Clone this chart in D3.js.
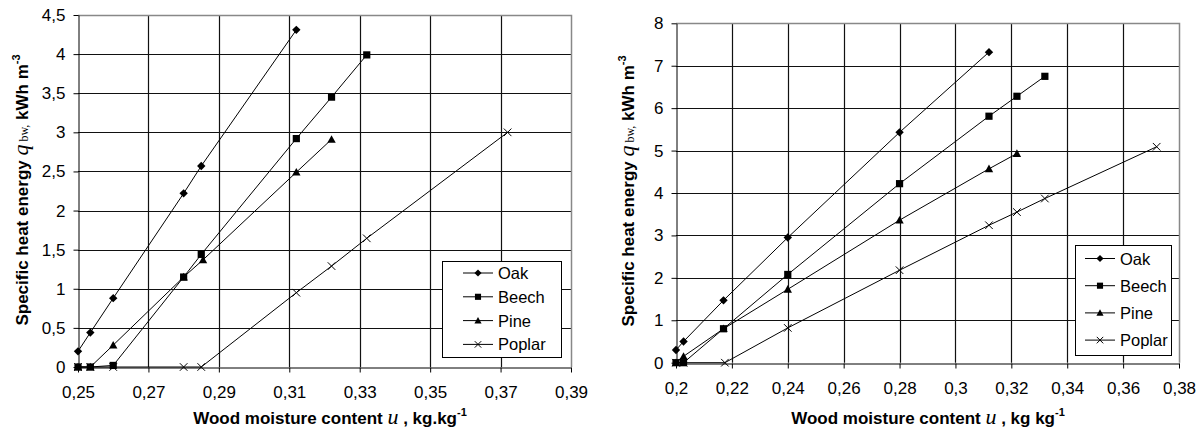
<!DOCTYPE html>
<html>
<head>
<meta charset="utf-8">
<script src="https://cdn.jsdelivr.net/npm/d3@7"></script>
<style>
  body { margin: 0; background: #fff; }
  svg text { font-family: Arial, "Liberation Sans", sans-serif; }
</style>
</head>
<body>
<div id="chart"></div>
<script>
// Species in legend order
const species = ["Oak", "Beech", "Pine", "Poplar"];

// Left chart: [u, q] pairs
const leftOak    = [[0.25, 0.2], [0.2535, 0.44], [0.26, 0.88], [0.28, 2.22], [0.285, 2.57], [0.312, 4.31]];
const leftBeech  = [[0.25, 0], [0.2535, 0], [0.26, 0.02], [0.28, 1.15], [0.285, 1.44], [0.312, 2.92], [0.322, 3.45], [0.332, 3.99]];
const leftPine   = [[0.25, 0], [0.2535, 0], [0.26, 0.28], [0.28, 1.15], [0.2855, 1.37], [0.312, 2.49], [0.322, 2.91]];
const leftPoplar = [[0.25, 0], [0.2535, 0], [0.26, 0], [0.28, 0], [0.285, 0], [0.312, 0.95], [0.322, 1.29], [0.332, 1.645], [0.372, 3.0]];

// Right chart
const rightOak    = [[0.2, 0.3], [0.2027, 0.5], [0.217, 1.47], [0.24, 2.95], [0.28, 5.43], [0.312, 7.32]];
const rightBeech  = [[0.2, 0], [0.2027, 0], [0.217, 0.8], [0.24, 2.08], [0.28, 4.22], [0.312, 5.81], [0.322, 6.28], [0.332, 6.75]];
const rightPine   = [[0.2, 0], [0.2027, 0.15], [0.217, 0.8], [0.24, 1.73], [0.28, 3.36], [0.312, 4.57], [0.322, 4.93]];
const rightPoplar = [[0.2, 0], [0.2027, 0], [0.2175, 0], [0.24, 0.82], [0.28, 2.18], [0.312, 3.24], [0.322, 3.55], [0.332, 3.87], [0.372, 5.09]];

// Tick values and labels
const leftXTicks  = [0.25, 0.27, 0.29, 0.31, 0.33, 0.35, 0.37, 0.39];
const leftYTicks  = [0, 0.5, 1, 1.5, 2, 2.5, 3, 3.5, 4, 4.5];
const rightXTicks = [0.2, 0.22, 0.24, 0.26, 0.28, 0.3, 0.32, 0.34, 0.36, 0.38];
const rightYTicks = [0, 1, 2, 3, 4, 5, 6, 7, 8];

const W = 1204, H = 432;
const svg = d3.select("#chart").append("svg")
    .attr("width", W)
    .attr("height", H);

// comma as decimal separator
const fmt = d => String(d).replace(".", ",");

// marker drawing for each species
function marker(g, kind, x, y, k = 1) {
  if (kind === "Oak") {
    const s = 4.2 * k;
    g.append("path").attr("d", `M${x},${y - s}L${x + s},${y}L${x},${y + s}L${x - s},${y}Z`).attr("fill", "#000");
  } else if (kind === "Beech") {
    const s = 3.6 * k;
    g.append("rect").attr("x", x - s).attr("y", y - s).attr("width", 2 * s).attr("height", 2 * s).attr("fill", "#000");
  } else if (kind === "Pine") {
    const s = 4.2 * k;
    g.append("path").attr("d", `M${x},${y - s}L${x + s},${y + s * 0.8}L${x - s},${y + s * 0.8}Z`).attr("fill", "#000");
  } else {
    const s = 3.8 * k;
    g.append("path").attr("d", `M${x - s},${y - s}L${x + s},${y + s}M${x - s},${y + s}L${x + s},${y - s}`)
      .attr("stroke", "#000").attr("stroke-width", 1).attr("fill", "none");
  }
}

function drawChart(cfg) {
  const x = d3.scaleLinear().domain(cfg.xDomain).range([cfg.left, cfg.right]);
  const y = d3.scaleLinear().domain(cfg.yDomain).range([cfg.bottom, cfg.top]);
  const g = svg.append("g");

  // gridlines
  g.selectAll(".vg").data(cfg.xTicks.slice(1, -1)).join("line")
      .attr("x1", d => Math.round(x(d)) + 0.5).attr("x2", d => Math.round(x(d)) + 0.5)
      .attr("y1", cfg.top).attr("y2", cfg.bottom)
      .attr("stroke", "#111").attr("stroke-width", 1.2);
  g.selectAll(".hg").data(cfg.yTicks.slice(1, -1)).join("line")
      .attr("x1", cfg.left).attr("x2", cfg.right)
      .attr("y1", d => Math.round(y(d)) + 0.5).attr("y2", d => Math.round(y(d)) + 0.5)
      .attr("stroke", "#111").attr("stroke-width", 1.2);

  // plot border (top and right grey)
  g.append("path")
      .attr("d", `M${cfg.left},${Math.round(cfg.top) + 0.5}H${Math.round(cfg.right) + 0.5}V${cfg.bottom}`)
      .attr("fill", "none").attr("stroke", "#888").attr("stroke-width", 1.5);

  // axes
  const xAxis = d3.axisBottom(x).tickValues(cfg.xTicks).tickFormat(fmt).tickSize(5).tickPadding(13).tickSizeOuter(0);
  const yAxis = d3.axisLeft(y).tickValues(cfg.yTicks).tickFormat(fmt).tickSize(5).tickPadding(8).tickSizeOuter(0);
  const xa = g.append("g").attr("transform", `translate(0,${Math.round(cfg.bottom) + 0.5})`).call(xAxis);
  const ya = g.append("g").attr("transform", `translate(${Math.round(cfg.left) + 0.5},0)`).call(yAxis);
  [xa, ya].forEach(a => {
    a.selectAll("path,line").attr("stroke", "#000");
    a.selectAll("text").attr("font-size", 17).attr("fill", "#000").attr("font-family", "Arial, 'Liberation Sans', sans-serif");
  });

  // series lines and markers
  const line = d3.line().x(d => x(d[0])).y(d => y(d[1]));
  cfg.series.forEach((s, i) => {
    g.append("path").datum(s).attr("d", line)
        .attr("fill", "none").attr("stroke", "#000").attr("stroke-width", 1);
  });
  cfg.series.forEach((s, i) => {
    const mg = g.append("g");
    s.forEach(d => marker(mg, species[i], x(d[0]), y(d[1])));
  });

  // legend
  const L = cfg.legend;
  const lg = g.append("g");
  lg.append("rect").attr("x", L.x + 0.5).attr("y", L.y + 0.5).attr("width", L.w).attr("height", L.h)
      .attr("fill", "#fff").attr("stroke", "#000").attr("stroke-width", 1);
  species.forEach((name, i) => {
    const yy = L.y + L.first + i * L.step;
    lg.append("line").attr("x1", L.x + L.lx1).attr("x2", L.x + L.lx2).attr("y1", yy).attr("y2", yy)
        .attr("stroke", "#000");
    marker(lg, name, L.x + (L.lx1 + L.lx2) / 2, yy, 0.85);
    lg.append("text").attr("x", L.x + L.tx).attr("y", yy + 6).attr("font-size", 16.5).text(name);
  });

  // x title
  const xt = g.append("text").attr("x", cfg.xTitleX).attr("y", 424).attr("text-anchor", "middle")
      .attr("font-size", 17).attr("font-weight", "bold");
  xt.append("tspan").text("Wood moisture content ");
  xt.append("tspan").attr("font-family", "'Liberation Serif', 'Times New Roman', serif").attr("font-style", "italic")
      .attr("font-size", 22).attr("font-weight", "normal").text("u");
  xt.append("tspan").text(cfg.xUnit);
  xt.append("tspan").attr("font-size", 11).attr("dy", -8).text("-1");

  // y title
  const yt = g.append("text").attr("transform", `translate(${cfg.yTitleX},${cfg.yTitleY}) rotate(-90)`)
      .attr("text-anchor", "middle").attr("font-size", 17).attr("font-weight", "bold");
  yt.append("tspan").text("Specific heat energy ");
  yt.append("tspan").attr("font-family", "'Liberation Serif', 'Times New Roman', serif").attr("font-style", "italic")
      .attr("font-size", 22).attr("font-weight", "normal").text("q");
  yt.append("tspan").attr("font-family", "'Liberation Serif', 'Times New Roman', serif")
      .attr("font-size", 12).attr("font-weight", "normal").text(" bw,");
  yt.append("tspan").text(" kWh m");
  yt.append("tspan").attr("font-size", 11).attr("dy", -8).text("-3");
}

drawChart({
  xDomain: [0.25, 0.39], yDomain: [0, 4.5],
  left: 78, right: 571, top: 15, bottom: 367,
  xTicks: leftXTicks, yTicks: leftYTicks,
  series: [leftOak, leftBeech, leftPine, leftPoplar],
  legend: { x: 442, y: 261, w: 119, h: 96, first: 12, step: 23.8, lx1: 21, lx2: 51, tx: 56 },
  xTitleX: 330, xUnit: " , kg.kg",
  yTitleX: 28, yTitleY: 190
});

drawChart({
  xDomain: [0.2, 0.38], yDomain: [0, 8],
  left: 676, right: 1179, top: 23.3, bottom: 362.7,
  xTicks: rightXTicks, yTicks: rightYTicks,
  series: [rightOak, rightBeech, rightPine, rightPoplar],
  legend: { x: 1075, y: 245, w: 96, h: 110, first: 13.5, step: 27.2, lx1: 10, lx2: 40, tx: 45 },
  xTitleX: 928, xUnit: " ,  kg kg",
  yTitleX: 634, yTitleY: 191
});
</script>
</body>
</html>
